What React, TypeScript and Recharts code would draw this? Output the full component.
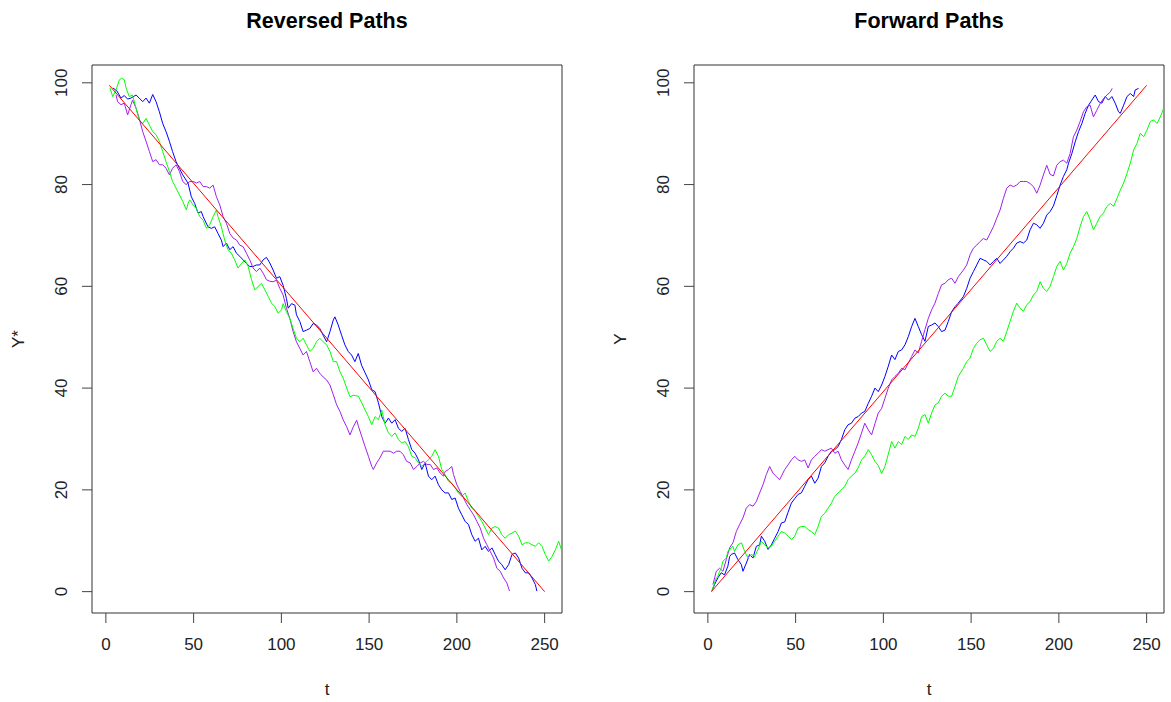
import React from "react";
import { LineChart, Line, XAxis, YAxis, ReferenceArea } from "recharts";

type Pt = [number, number];

// t ticks and Y ticks shared by both panels
const tTicks = [0, 50, 100, 150, 200, 250];
const yTicks = [0, 20, 40, 60, 80, 100];

// ---- Reversed paths (Y*) ----
const revBlue: Pt[] = [
  [4, 99], [6.3, 98.4], [8.6, 97], [10.5, 97.5], [12.4, 96.8], [14.3, 97], [17.2, 97.6], [19, 97], [21, 96.3],
  [22.9, 97], [24.8, 96], [26.7, 97.7], [28.6, 96.3], [30.5, 94.3], [32.4, 92], [34.3, 90.4], [36.2, 88.5],
  [38, 86.5], [40, 84.5], [41.9, 83.2], [43.8, 81.9], [46.8, 80.3], [48.7, 77.6], [50.6, 76.3], [52.5, 74.4],
  [54.4, 74.7], [55.4, 73.7], [58.2, 71.7], [60.1, 71.4], [62, 71.7], [63.9, 70.4], [65.8, 69.1], [66.8, 67.8],
  [68.7, 68.5], [70.6, 67.2], [72.5, 67.8], [74.4, 66.5], [76.3, 65.9], [78.2, 65.2], [80.1, 64.5], [82, 63.9],
  [83.9, 63.9], [85.8, 64.2], [87.7, 64.2], [89.6, 65.2], [91.5, 65.7], [93.4, 64.6], [95.3, 63.2], [97.2, 61.6],
  [99.1, 61.9], [101, 60.2], [102.9, 57.6], [103.9, 55.7], [105.8, 56.6], [107.7, 56.3], [108.6, 54.4],
  [110.5, 53.1], [112.4, 51.1], [114.3, 51.4], [116.2, 51.7], [118.1, 52.7], [120, 52.4], [121.9, 51.7],
  [123.8, 50.4], [125.8, 49.1], [127.7, 51.1], [129.6, 53.4], [130.5, 54], [132.4, 52.4], [134.3, 50.4],
  [136.2, 48.5], [138.1, 47.2], [140, 46.5], [141.9, 45.2], [143.8, 46.8], [145.7, 44.5], [147.7, 43],
  [149.6, 41.6], [151.5, 39.7], [153.4, 39.3], [155.3, 37.1], [157.2, 34.4], [159.1, 33.1], [161, 34.1],
  [162.9, 33.1], [164.8, 33.8], [166.7, 32.1], [168.6, 31.5], [170.5, 32.1], [172.4, 29.9], [174.3, 27.9],
  [176.2, 27.2], [178.1, 25.9], [180, 24], [181.9, 25.3], [183.8, 22.7], [185.7, 22], [187.6, 22.7],
  [189.5, 21], [191.4, 20], [193.3, 19.4], [195.2, 19.4], [197.1, 18.1], [199, 18.4], [200.9, 16.4],
  [202.8, 15.1], [204.7, 13.8], [206.6, 13.2], [208.5, 11.2], [210.4, 9.9], [212.3, 10.5], [214.2, 8.2],
  [216.1, 8.9], [218, 7.9], [220, 8.6], [221.8, 7.3], [223.7, 6], [225.6, 5.3], [227.5, 4.3], [229.5, 5.3],
  [231.4, 7.3], [233.3, 7.6], [235.2, 6.6], [237.1, 4.6], [239, 3.7], [240.9, 3.7], [242.8, 2.7],
  [244.7, 1.4], [245.6, 0.1],
];

const revGreen: Pt[] = [
  [2.3, 99], [3.9, 97.3], [5.8, 98.6], [7.7, 100.6], [9, 100.9], [10.5, 100.6], [11.5, 99], [13.3, 97.3],
  [15.2, 97.6], [17.2, 95], [19, 92.7], [21, 92], [22.9, 93], [24.8, 91.7], [26.7, 90.4], [28.6, 89.8],
  [30.5, 88.5], [32.4, 86.5], [34.3, 84.5], [36.2, 82.6], [38, 80.6], [40, 79.3], [41.9, 78], [43.8, 76.7],
  [45.9, 75], [46.8, 76.3], [47.8, 77], [49.7, 76], [51.6, 75.3], [53.5, 73.7], [55.4, 73], [57.3, 71.4],
  [59.2, 72.1], [61.1, 73.7], [63, 75], [63.9, 73.7], [65.8, 71.7], [67.7, 69.1], [69.6, 67.2], [71.5, 66.5],
  [73.4, 65.2], [75.3, 63.6], [77.3, 64.5], [79.2, 65.2], [81.1, 63.9], [83, 61.3], [84.9, 59.3], [86.8, 60],
  [88.7, 60.6], [90.6, 59.3], [92.5, 58], [94.4, 56.7], [96.3, 56], [98.2, 54.7], [100.1, 55.4], [101, 56.6],
  [102.9, 55], [104.8, 53.7], [106.7, 51.7], [108.6, 49.8], [110.5, 49.1], [112.4, 49.8], [114.3, 48.5],
  [116.2, 47.2], [118.1, 47.8], [120, 49.1], [121.9, 49.8], [123.8, 49.1], [125.8, 48.5], [127.7, 47.2],
  [129.6, 45.2], [131.5, 45.2], [133.4, 43.2], [135.3, 41.9], [137.2, 40], [139.1, 38.3], [141, 38.6],
  [143.9, 38.4], [145.8, 37.1], [147.7, 35.7], [149.6, 34.4], [151.5, 32.8], [153.4, 34.4], [155.3, 33.8],
  [157.2, 35.7], [159.1, 32.8], [161, 31.2], [162.9, 30.5], [164.8, 31.2], [166.7, 29.9], [168.6, 29.2],
  [170.5, 29.5], [172.4, 28.5], [174.3, 26.6], [176.2, 26.3], [178.1, 25.3], [180, 24.6], [181.9, 25.3],
  [183.8, 25.9], [185.7, 26.6], [187.6, 27.9], [189.5, 26.6], [191.4, 24], [193.3, 23], [195.2, 21.7],
  [197.1, 21.3], [199, 20.4], [200.9, 19.4], [202.8, 18.7], [204.7, 19.4], [206.6, 17.7], [208.5, 16.4],
  [210.4, 15.8], [212.3, 14.8], [214.2, 13.8], [216.1, 12.5], [218, 11.2], [220, 12.5], [221.8, 12.8],
  [223.7, 12.5], [225.6, 11.2], [227.5, 10.5], [229.5, 11.2], [231.4, 11.5], [233.3, 11.9], [235.2, 10.9],
  [237.1, 9.2], [239, 9.6], [240.9, 9.6], [242.8, 9.2], [244.7, 8.9], [246.6, 9.6], [248.5, 8.9],
  [250.4, 7.3], [252.3, 6], [254.2, 6.9], [256.1, 8.2], [258, 9.9], [259.9, 7.9], [264, 9],
];

const revPurple: Pt[] = [
  [5.8, 97.6], [6.7, 96.3], [8.6, 95.7], [10.5, 96], [12.4, 93.7], [14.3, 95.7], [15.2, 96.6], [17.2, 95],
  [19, 93], [21, 90.4], [22.9, 88.5], [24.8, 86.5], [26.7, 84.5], [28.6, 84.9], [30.5, 83.9], [32.4, 83.9],
  [34.3, 83.2], [36.2, 81.9], [38, 83.2], [40, 83.9], [41.9, 82.6], [43.8, 80.6], [45.7, 80], [47.8, 80.6],
  [49.7, 80.6], [51.6, 80.3], [53.5, 80.6], [55.4, 79.6], [57.3, 79.6], [59.2, 79.3], [61.1, 79.9],
  [63, 77.6], [64.9, 76], [66.8, 73.7], [68.7, 72.4], [70.6, 70.4], [72.5, 69.5], [74.4, 69.1], [76.3, 68.1],
  [78.2, 67.8], [80.1, 66.5], [82, 65.2], [83.9, 63.6], [85.8, 62.9], [87.7, 63.6], [89.6, 62.6],
  [91.5, 61.3], [93.4, 61], [95.3, 60.9], [97.2, 61.2], [99.1, 59.6], [101, 58.3], [102.9, 55.7],
  [104.8, 53.7], [106.7, 51.1], [108.6, 49.1], [110.5, 47.8], [112.4, 46.5], [114.3, 47.2], [116.2, 45.2],
  [118.1, 43.2], [120, 43.9], [121.9, 42.9], [123.8, 42.2], [125.8, 41.6], [127.7, 40.6], [129.6, 38.7],
  [131.5, 36.7], [133.4, 35.4], [135.3, 33.7], [137.2, 32.4], [139.1, 30.8], [141, 32.4], [142.9, 33.7],
  [143.9, 32.5], [145.8, 30.5], [147.7, 28.5], [149.6, 26.6], [151.5, 24.6], [152.4, 24], [154.3, 25.3],
  [156.2, 26.3], [158.1, 27.6], [160, 27.6], [162, 27.6], [163.9, 27.2], [165.7, 27.6], [167.6, 27.6],
  [169.5, 26.9], [171.4, 25.6], [173.4, 25.3], [175.3, 24], [177.2, 24.6], [179.1, 25.3], [181, 25.6],
  [182.9, 25], [184.8, 25], [186.7, 24], [188.6, 24.3], [190.5, 23.3], [192.4, 22.7], [193.3, 23.6],
  [195.2, 24], [197.1, 24.6], [198.1, 23], [200, 21], [201.9, 19.7], [203.8, 18.4], [205.7, 17.1],
  [207.6, 16.1], [209.5, 15.1], [211.4, 13.8], [213.3, 12.5], [215.2, 10.5], [217.1, 9.2], [219, 7.9],
  [220.9, 6.6], [222.8, 4.6], [224.7, 4], [226.6, 2.7], [228.5, 1.7], [230, 0.1],
];

const revRed: Pt[] = [[2, 99.5], [250, 0]];

// ---- Forward paths (Y) ----
const fwdBlue: Pt[] = [
  [2.3, 0.1], [3.8, 1.4], [5.7, 2.7], [7.6, 3.7], [9.5, 3.3], [11.4, 5], [12.4, 6.9], [13.3, 7.3], [15.2, 7.6],
  [17.1, 6.3], [19.1, 5.3], [20, 4], [21.9, 5.6], [23.8, 7.3], [25.7, 6.6], [27.6, 8.9], [29.5, 9.2],
  [30.5, 10.9], [32.4, 9.9], [34.3, 8.3], [36.2, 9.2], [38.1, 10.5], [40, 11.8], [41.9, 13.5], [43.8, 13.7],
  [45.7, 15.6], [47.6, 17.4], [49.5, 18.3], [51.4, 19.1], [53.3, 19.4], [55.2, 20.7], [57.1, 22], [59, 22.7],
  [60.9, 21.3], [62.8, 22.3], [64.7, 24.6], [66.6, 25.3], [68.5, 26.6], [70.4, 27.6], [72.3, 27.9],
  [74.2, 28.5], [76.1, 29.9], [78, 31.8], [79.9, 32.8], [81.8, 33.1], [83.8, 34.1], [85.6, 34.4],
  [87.6, 35.1], [89.4, 35.4], [91.4, 37], [93.3, 38.4], [95.2, 40], [97.1, 39.3], [99, 40.6], [100.9, 42.3],
  [102.8, 44.3], [104.7, 46.5], [106.6, 45.6], [108.5, 47.2], [110.4, 47.5], [112.3, 48.5], [114.2, 50.1],
  [116.1, 52.1], [118, 53.7], [119.9, 52.1], [121.8, 50.5], [123.7, 49.2], [125.6, 52.1], [127.5, 52.4],
  [129.4, 52.8], [131.3, 52.1], [133.2, 51.1], [135.1, 51.4], [137, 53.1], [138.9, 55], [140.8, 56],
  [142.7, 56.7], [145.6, 58], [147.5, 59.6], [149.4, 61.6], [151.3, 62.9], [153.2, 64.2], [155.1, 65.5],
  [157, 65.2], [158.9, 64.9], [160.8, 64.2], [162.7, 64.9], [164.6, 65.5], [166.5, 64.5], [168.4, 65.2],
  [170.3, 65.9], [172.2, 66.8], [174.1, 67.5], [176, 68.5], [177.9, 68.8], [179.8, 68.5], [181.7, 69.1],
  [183.6, 71.1], [185.5, 72.4], [187.4, 72.1], [189.3, 71.4], [191.2, 72.4], [193.1, 74], [195, 74.7],
  [196.9, 75.8], [198.8, 77.8], [200.7, 79.9], [202.6, 81.6], [204.5, 82.9], [205.5, 84.2], [207.4, 86.1],
  [209.3, 88.4], [211.2, 90.4], [213.1, 92], [215, 94], [216.9, 95.6], [218.8, 96.6], [220.7, 97.6],
  [222.6, 96.3], [224.5, 96], [226.4, 97.3], [228.3, 96.6], [230.2, 97.3], [232.1, 96], [234, 94.3],
  [235, 94], [236.9, 95.6], [238.8, 97.3], [240.7, 97.9], [242.6, 97.3], [243.5, 98.6], [245.4, 98.9],
];

const fwdGreen: Pt[] = [
  [2.3, 0.1], [3.8, 1.7], [4.8, 2.7], [5.7, 3], [6.7, 4], [7.6, 4.6], [8.6, 6], [10.5, 6.6], [11.4, 7.9],
  [13.3, 8.6], [14.3, 8.9], [15.2, 7.9], [17.1, 9.2], [19.1, 9.6], [21, 7.9], [22.9, 6.6], [24.8, 7.3],
  [26.7, 6.9], [28.6, 8.3], [30.5, 9.9], [32.4, 9.2], [34.3, 8.6], [36.2, 8.9], [38.1, 9.9], [40, 10.9],
  [41.9, 11.8], [43.8, 11.5], [45.7, 10.9], [47.6, 10.2], [49.5, 10.9], [51.4, 12.5], [53.3, 12.8],
  [55.2, 12.8], [57.1, 12.2], [59, 11.8], [60.9, 11.2], [62.8, 12.8], [64.7, 14.8], [66.6, 15.4],
  [68.5, 16.4], [70.4, 17.4], [72.3, 18.7], [74.2, 19.4], [76.1, 20], [78, 20.7], [79.9, 22], [81.8, 22.7],
  [83.8, 23.3], [85.6, 24.3], [87.6, 25.9], [89.4, 26.6], [91.4, 27.9], [93.3, 26.9], [95.2, 25.6],
  [97.1, 24.8], [99, 23.2], [100.9, 24.6], [102.8, 27], [104.7, 29.5], [106.6, 28.2], [108.5, 29.5],
  [110.4, 28.9], [112.3, 30.5], [114.2, 29.9], [116.1, 30.8], [118, 30.5], [119.9, 32.1], [121.8, 34.4],
  [123.7, 34.8], [125.6, 33.1], [127.5, 35.1], [129.4, 36.7], [131.3, 37.1], [133.2, 38.4], [135.1, 39],
  [137, 38.4], [138.9, 38.4], [140.8, 40.3], [142.7, 42.3], [145.6, 43.9], [147.5, 45.2], [149.4, 45.9],
  [151.3, 47.8], [153.2, 48.8], [155.1, 49.5], [157, 49.8], [158.9, 48.5], [160.8, 47.2], [162.7, 47.8],
  [164.6, 49.2], [166.5, 49.8], [168.4, 49.2], [170.3, 51.1], [172.2, 53.1], [174.1, 55.1], [176, 56.7],
  [177.9, 55.7], [179.8, 55.1], [181.7, 56.4], [183.6, 57], [185.5, 58.3], [187.4, 59], [189.3, 60.9],
  [191.2, 59.6], [193.1, 59], [195, 60], [196.9, 61.9], [198.8, 63.9], [200.7, 64.9], [202.6, 63.2],
  [204.5, 64.5], [206.4, 66.5], [208.3, 67.8], [210.2, 69.4], [212.1, 71.7], [214, 73.7], [215.9, 74.7],
  [217.8, 73.1], [219.7, 71.1], [221.6, 72.4], [223.5, 73.7], [225.4, 74.4], [227.4, 75.7], [229.3, 76.3],
  [231.2, 75.7], [233.1, 77.3], [235, 78.9], [236.9, 80.3], [238.8, 82.2], [240.7, 84.2], [242.6, 86.8],
  [244.5, 88.1], [246.4, 90.1], [248.3, 89.4], [250.2, 90.7], [252.1, 92.4], [254, 92.7], [255.9, 92],
  [257.8, 93.3], [259.7, 95], [264, 96],
];

const fwdPurple: Pt[] = [
  [2.9, 1.4], [4.8, 4], [6.7, 4.6], [8.6, 4], [10.5, 6.3], [12.4, 8.6], [14.3, 9.6], [16.2, 11.8], [18.1, 13.2],
  [20, 14.5], [21.9, 16.4], [23.8, 17.1], [25.7, 16.8], [27.6, 17.7], [29.5, 19.4], [31.4, 21], [33.3, 23],
  [35.2, 24.6], [37.1, 23.3], [39, 22.6], [40.9, 22], [42.8, 23.3], [43.8, 24], [45.7, 24.9], [47.6, 25.9],
  [49.5, 26.6], [51.4, 25.9], [53.3, 25.6], [55.2, 25.9], [57.1, 24.3], [59, 25.9], [60.9, 26.6],
  [62.8, 27.2], [64.7, 27.9], [66.6, 27.6], [68.5, 27.9], [70.4, 28.2], [72.3, 27.2], [74.2, 27.6],
  [76.1, 25.9], [78, 24.9], [79.9, 24], [81.8, 25.9], [83.8, 27.6], [85.6, 29.2], [87.6, 31.2], [89.4, 33.1],
  [91.4, 31.8], [93.3, 30.8], [95.2, 33], [97.1, 35.1], [99, 36], [100.9, 38], [102.8, 40], [104.7, 41.6],
  [106.6, 42.3], [108.5, 42.9], [110.4, 43.9], [112.3, 43.6], [114.2, 44.9], [116.1, 46.2], [118, 47.5],
  [119.9, 46.9], [121.8, 49.2], [123.7, 51.5], [125.6, 53.7], [127.5, 55.4], [129.4, 56.7], [131.3, 58.6],
  [133.2, 60.3], [135.1, 60.6], [137, 61.3], [138.9, 61.6], [140.8, 60.6], [142.7, 61.9], [145.6, 63.2],
  [147.5, 64.2], [149.4, 66.2], [151.3, 67.5], [153.2, 68.1], [155.1, 68.8], [157, 69.4], [158.9, 69.1],
  [160.8, 70.4], [162.7, 71.7], [164.6, 73.4], [166.5, 75], [168.4, 77.3], [170.3, 79.3], [172.2, 79.9],
  [174.1, 79.6], [176, 79.9], [177.9, 80.6], [179.8, 80.6], [181.7, 80.6], [183.6, 80.2], [185.5, 79.6],
  [187.4, 78.3], [189.3, 79.9], [191.2, 81.9], [193.1, 83.8], [195, 82], [196.9, 81.7], [198.8, 83.8],
  [200.7, 84.5], [202.6, 84.8], [204.5, 84.2], [206.4, 86.1], [208.3, 89.4], [210.2, 90.7], [212.1, 92.4],
  [214, 94.3], [215.9, 95.3], [217.8, 95.6], [219.7, 93.3], [221.6, 94.6], [223.5, 95.9], [225.4, 96.9],
  [227.4, 97.6], [229.3, 98.2], [230.4, 98.9],
];

const fwdRed: Pt[] = [[2, 0], [250, 99.5]];

const FONT = '"Liberation Sans", Arial, sans-serif';
const TXT = "#222";

const toRows = (a: Pt[]) => a.map(([t, v]) => ({ t, v }));

const YTick = (props: any) => {
  const { x, y, payload } = props;
  return (
    <text x={x} y={y} transform={`rotate(-90 ${x} ${y})`} textAnchor="middle" fontSize={17} fill={TXT} fontFamily={FONT}>
      {payload.value}
    </text>
  );
};

interface PanelProps {
  title: string;
  yLabel: string;
  series: { data: Pt[]; color: string }[];
}

const Panel: React.FC<PanelProps> = ({ title, yLabel, series }) => (
  <div style={{ position: "relative", width: 585, height: 702 }}>
    <div style={{ position: "absolute", left: 92, width: 470, top: 9, textAlign: "center", fontFamily: FONT, fontWeight: 700, fontSize: 21.5, lineHeight: "25px", color: "#000" }}>
      {title}
    </div>
    <LineChart width={585} height={702} margin={{ top: 65, right: 23, bottom: 0, left: 0 }}>
      <XAxis
        type="number"
        dataKey="t"
        domain={[-7.9, 259.9]}
        allowDataOverflow
        ticks={tTicks}
        interval={0}
        axisLine={false}
        tickSize={10}
        tickMargin={15}
        height={89}
        tickLine={{ stroke: "#444" }}
        tick={{ fontSize: 17, fill: TXT, fontFamily: FONT }}
        label={() => (
          <text x={327} y={695} textAnchor="middle" fontSize={17} fill={TXT} fontFamily={FONT}>t</text>
        )}
      />
      <YAxis
        type="number"
        dataKey="v"
        domain={[-4.2, 103.5]}
        allowDataOverflow
        ticks={yTicks}
        interval={0}
        axisLine={false}
        width={92}
        tickSize={10}
        tickMargin={15}
        tickLine={{ stroke: "#444" }}
        tick={<YTick />}
        label={() => (
          <text x={24} y={339} transform="rotate(-90 24 339)" textAnchor="middle" fontSize={17} fill={TXT} fontFamily={FONT}>{yLabel}</text>
        )}
      />
      <ReferenceArea x1={-7.9} x2={259.9} y1={-4.2} y2={103.5} fill="none" fillOpacity={0} stroke="#333" strokeOpacity={1} ifOverflow="visible" />
      {series.map((s, i) => (
        <Line key={i} data={toRows(s.data)} dataKey="v" type="linear" stroke={s.color} strokeWidth={1} dot={false} activeDot={false} isAnimationActive={false} />
      ))}
    </LineChart>
  </div>
);

export default function App() {
  return (
    <div style={{ position: "absolute", left: 0, top: 0, width: 1171, height: 702, overflow: "hidden", background: "#fff" }}>
      <div style={{ position: "absolute", left: 0, top: 0 }}>
        <Panel
          title="Reversed Paths"
          yLabel="Y*"
          series={[
            { data: revBlue, color: "#0000ff" },
            { data: revPurple, color: "#a020f0" },
            { data: revGreen, color: "#00ff00" },
            { data: revRed, color: "#ff0000" },
          ]}
        />
      </div>
      <div style={{ position: "absolute", left: 602, top: 0 }}>
        <Panel
          title="Forward Paths"
          yLabel="Y"
          series={[
            { data: fwdBlue, color: "#0000ff" },
            { data: fwdPurple, color: "#a020f0" },
            { data: fwdGreen, color: "#00ff00" },
            { data: fwdRed, color: "#ff0000" },
          ]}
        />
      </div>
    </div>
  );
}
